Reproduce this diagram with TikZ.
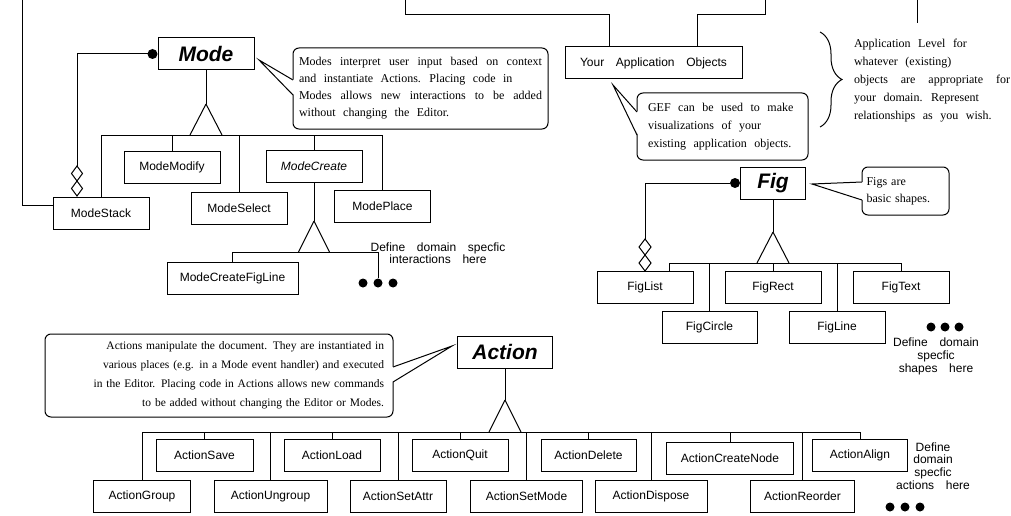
\documentclass[tikz,border=0pt]{standalone}
\usepackage{fontspec}
\setmainfont{Liberation Serif}
\setsansfont[WordSpace=3.5]{Liberation Sans}
\newfontfamily\notefont[WordSpace=2.5]{Liberation Serif}
\usepackage{tikz}
\usetikzlibrary{decorations.pathreplacing}
\tikzstyle{boite} = [draw, fill=white, minimum width=96pt, minimum height=32pt, inner sep=0pt, font=\sffamily\fontsize{12}{14}\selectfont]
\tikzstyle{abstraite} = [boite, font=\sffamily\bfseries\itshape\fontsize{21}{24}\selectfont]
\tikzstyle{bulle} = [draw, rounded corners=6pt, inner sep=0pt, align=justify, font=\notefont\fontsize{12}{17}\selectfont]
\tikzstyle{texte} = [inner sep=0pt, align=justify, font=\notefont\fontsize{12}{18}\selectfont]
\tikzstyle{remarque} = [inner sep=0pt, align=center, font=\sffamily\fontsize{12}{12.5}\selectfont]
\tikzstyle{pastille} = [circle, fill, inner sep=0pt, minimum size=9pt]

\begin{document}
\begin{tikzpicture}[x=1pt, y=-1pt, line width=1pt]
	\useasboundingbox (0,0) rectangle (1011,516);

	% niveau application
	\node[boite, minimum width=177pt] (YAO) at (653.5,63) {Your Application Objects};
	\coordinate (H1) at (405,0);
	\coordinate (H2) at (765,0);
	\coordinate (H3) at (917,0);
	\coordinate (T1) at (609,15);
	\coordinate (T2) at (697,15);
	\draw (H1) |- (T1) -- (T1 |- YAO.north);
	\draw (H2) |- (T2) -- (T2 |- YAO.north);
	\draw (H3) -- ++(0,23);

	\draw[decorate, decoration={brace, amplitude=22pt}] (820,32) -- (820,127);
	\node[texte, text width=156pt] (NIV) at (932,80.5) {Application Level for\\ whatever (existing)\\ objects are appropriate for\linebreak your domain. Represent\\ relationships as you wish.};

	\node[bulle, minimum width=171pt, minimum height=67pt, text width=149pt, font=\notefont\fontsize{12}{18}\selectfont] (GN) at (722.5,126.5) {GEF can be used to make\\ visualizations of your\\ existing application objects.};
	\coordinate (GNp) at (613,85);
	\fill[white] (638,112) -- (GNp) -- (638,135) -- cycle;
	\draw (637,112) -- (GNp) -- (637,135);

	% Mode
	\node[abstraite] (M) at (206,54) {Mode};
	\node[boite] (MS) at (101,213) {ModeStack};
	\node[boite] (MM) at (172,167) {ModeModify};
	\node[boite] (MSe) at (239,208) {ModeSelect};
	\node[boite, font=\sffamily\itshape\fontsize{12}{14}\selectfont] (MC) at (314,166) {ModeCreate};
	\node[boite] (MP) at (382.5,206) {ModePlace};
	\node[boite, minimum width=131pt] (MCL) at (232.5,278) {ModeCreateFigLine};

	\coordinate (G) at (22,0);
	\draw (G) |- ([yshift=8pt]MS.west);

	\fill ([xshift=-5pt]M.west) circle (5pt);
	\draw ([xshift=-10pt]M.west) -| (77,166);
	\foreach \y in {166,181}
		\draw (77,\y) -- ++(5.5,7.5) -- ++(-5.5,7.5) -- ++(-5.5,-7.5) -- cycle;

	\coordinate (MT) at (206,104);
	\coordinate (MB) at (206,135);
	\draw (M) -- (MT);
	\draw (MT) -- ++(-16,31);
	\draw (MT) -- ++(16,31);
	\draw (MS.north) |- (MP.north |- MB) -- (MP.north);
	\foreach \n in {MM,MSe,MC}
		\draw (\n.north) -- (\n.north |- MB);

	\foreach \i/\x in {1/363,2/378,3/393}
		\node[pastille] (MD\i) at (\x,283) {};
	\coordinate (MCT) at (314,221);
	\coordinate (MCB) at (314,252);
	\draw (MC) -- (MCT);
	\draw (MCT) -- ++(-15.5,31);
	\draw (MCT) -- ++(15.5,31);
	\draw (MCL.north) |- (MD2.north |- MCB) -- (MD2.north);
	\node[remarque, font=\sffamily\fontsize{12}{12}\selectfont] (MDef) at (438,253) {Define domain specfic\\ interactions here};

	\node[bulle, minimum width=255pt, minimum height=81pt, text width=243pt] (MN) at (420.5,88.5) {Modes interpret user input based on context\linebreak and instantiate Actions. Placing code in\\ Modes allows new interactions to be added\linebreak without changing the Editor.};
	\coordinate (MNp) at (259,60);
	\fill[white] (294,80) -- (MNp) -- (294,95) -- cycle;
	\draw (293,80) -- (MNp) -- (293,95);

	% Fig
	\node[abstraite, minimum width=65pt] (F) at (773,183) {Fig};
	\node[boite] (FL) at (645,287) {FigList};
	\node[boite] (FR) at (773,287) {FigRect};
	\node[boite] (FX) at (901,287) {FigText};
	\node[boite, minimum width=95pt] (FC) at (709.5,327) {FigCircle};
	\node[boite] (FLi) at (837,327) {FigLine};

	\fill ([xshift=-5pt]F.west) circle (5pt);
	\draw ([xshift=-10pt]F.west) -| (645,239);
	\foreach \y in {239,255}
		\draw (645,\y) -- ++(6,8) -- ++(-6,8) -- ++(-6,-8) -- cycle;

	\coordinate (FT) at (773,232);
	\coordinate (FB) at (773,263);
	\draw (F) -- (FT);
	\draw (FT) -- ++(-16,31);
	\draw (FT) -- ++(16,31);
	\draw ([xshift=24pt]FL.north) |- (FX.north |- FB) -- (FX.north);
	\foreach \n in {FC,FR,FLi}
		\draw (\n.north) -- (\n.north |- FB);

	\foreach \i/\x in {1/931,2/945,3/959}
		\node[pastille] (FD\i) at (\x,327) {};
	\node[remarque, font=\sffamily\fontsize{12}{13}\selectfont] (FDef) at (936,356) {Define domain\\ specfic\\ shapes here};

	\node[bulle, minimum width=87pt, minimum height=48pt, text width=78pt, align=left] (FN) at (905.5,191) {Figs are\\ basic shapes.};
	\coordinate (FNp) at (812,184);
	\fill[white] (863,182) -- (FNp) -- (863,200) -- cycle;
	\draw (862,182) -- (FNp) -- (862,200);

	% Action
	\node[abstraite, minimum width=95pt] (A) at (505,352) {Action};
	\node[boite, minimum width=97pt] (AS) at (204.5,455) {ActionSave};
	\node[boite] (AL) at (332,455) {ActionLoad};
	\node[boite] (AQ) at (460,455) {ActionQuit};
	\node[boite, minimum width=95pt] (ADe) at (588.5,455) {ActionDelete};
	\node[boite, minimum width=127pt] (ACN) at (730,458) {ActionCreateNode};
	\node[boite, minimum width=95pt] (AAl) at (860,455) {ActionAlign};
	\node[boite, minimum width=97pt] (AG) at (142,496) {ActionGroup};
	\node[boite, minimum width=113pt] (AU) at (270.5,496) {ActionUngroup};
	\node[boite] (ASA) at (398,496) {ActionSetAttr};
	\node[boite, minimum width=112pt] (ASM) at (526.5,496) {ActionSetMode};
	\node[boite, minimum width=112pt] (ADi) at (651,496) {ActionDispose};
	\node[boite, minimum width=104pt] (AR) at (802.5,496) {ActionReorder};

	\coordinate (AT) at (505,400);
	\coordinate (AB) at (505,432);
	\draw (A) -- (AT);
	\draw (AT) -- ++(-16,32);
	\draw (AT) -- ++(16,32);
	\draw (AG.north) |- (AAl.north |- AB) -- (AAl.north);
	\foreach \n in {AS,AL,AQ,ADe,ACN,AU,ASA,ASM,ADi,AR}
		\draw (\n.north) -- (\n.north |- AB);

	\foreach \i/\x in {1/890,2/905,3/920}
		\node[pastille] (AD\i) at (\x,507) {};
	\node[remarque, font=\sffamily\fontsize{12}{12.7}\selectfont] (ADef) at (933,466) {Define\\ domain\\ specfic\\ actions here};

	\node[bulle, minimum width=348pt, minimum height=83pt, text width=330pt, align=right, font=\rmfamily\fontsize{11.5}{19}\selectfont] (AN) at (219,375.5) {Actions manipulate the document. They are instantiated in\\ various places (e.g. in a Mode event handler) and executed\\ in the Editor. Placing code in Actions allows new commands\\ to be added without changing the Editor or Modes.};
	\coordinate (ANp) at (452,346);
	\fill[white] (392,367) -- (ANp) -- (392,382) -- cycle;
	\draw (393,367) -- (ANp) -- (393,382);

\end{tikzpicture}
\end{document}
